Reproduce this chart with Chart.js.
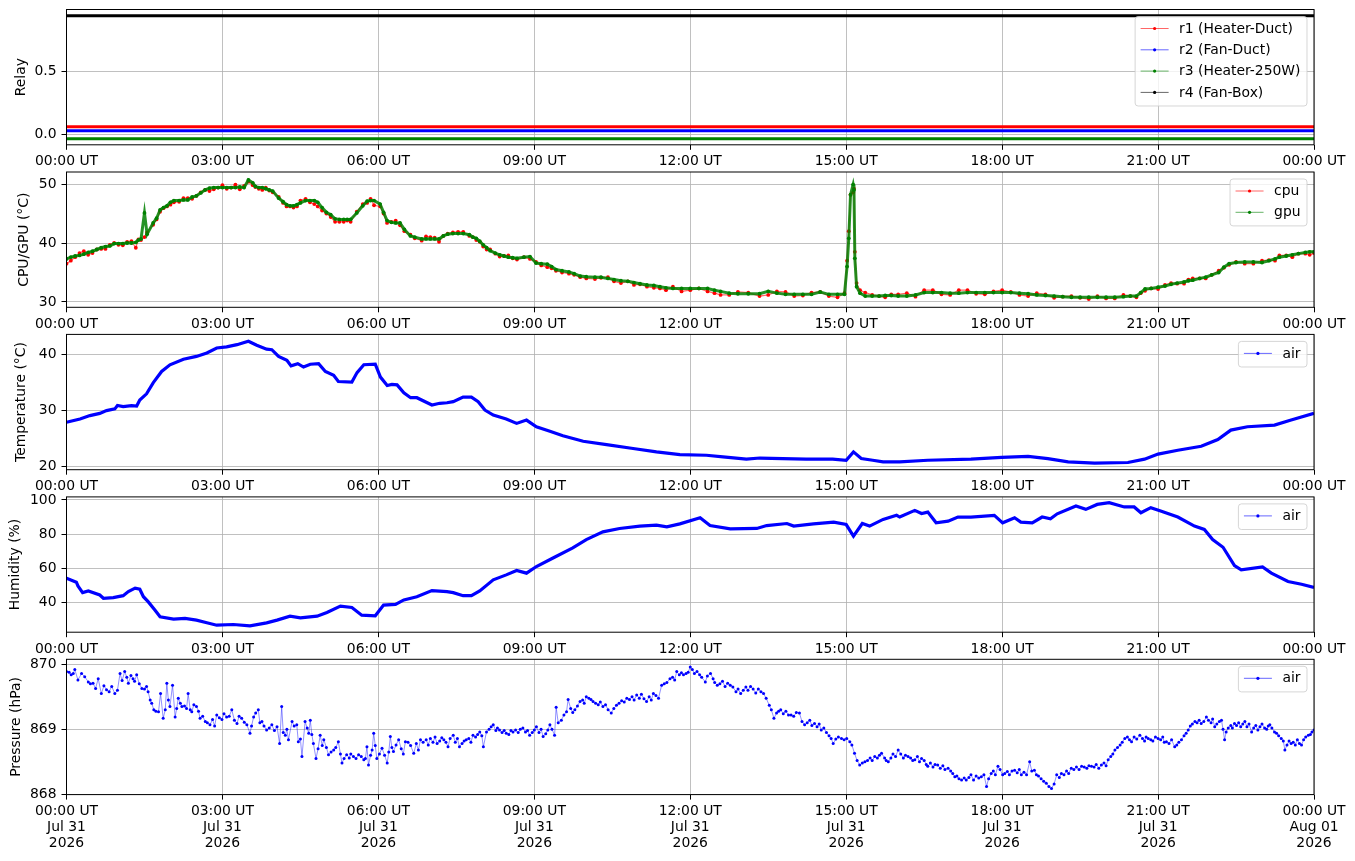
<!DOCTYPE html>
<html><head><meta charset="utf-8">
<script src="https://cdn.jsdelivr.net/npm/chart.js@4.4.1/dist/chart.umd.min.js"></script>
<style>
html,body{margin:0;padding:0;background:#fff;}
#wrap{position:relative;width:1355px;height:861px;overflow:hidden;}
#wrap canvas{position:absolute;left:0;top:0;}
</style></head><body><div id="wrap"></div>
<script>
// ---------------- DATA ----------------
const xTickHours = [0, 3, 6, 9, 12, 15, 18, 21, 24];
const xTickTimes = ['00:00 UT','03:00 UT','06:00 UT','09:00 UT','12:00 UT','15:00 UT','18:00 UT','21:00 UT','00:00 UT'];
const xTickDates = ['Jul 31','Jul 31','Jul 31','Jul 31','Jul 31','Jul 31','Jul 31','Jul 31','Aug 01'];
const xTickYears = ['2026','2026','2026','2026','2026','2026','2026','2026','2026'];

// Relay states (plotted with small vertical offsets so they don't overlap)
const relayT = [0, 6, 12, 18, 24];
const r1 = [0.0625, 0.0625, 0.0625, 0.0625, 0.0625];
const r2 = [0.03125, 0.03125, 0.03125, 0.03125, 0.03125];
const r3 = [-0.03125, -0.03125, -0.03125, -0.03125, -0.03125];
const r4 = [0.9375, 0.9375, 0.9375, 0.9375, 0.9375];

// CPU / GPU temperature (time in minutes)
const cgT = [0,10,20,30,40,50,60,70,80,86,90,93,100,108,116,124,135,145,155,165,175,185,195,205,210,215,222,230,238,245,254,262,270,281,290,300,310,320,328,335,347,355,362,370,380,390,397,410,420,430,440,452,465,473,481,489,500,510,520,535,542,555,565,580,593,610,625,640,655,670,685,700,720,740,755,775,800,820,840,860,880,898,901,903,905,908,909,910,912,916,930,945,960,980,1000,1020,1040,1060,1080,1100,1120,1140,1160,1180,1200,1220,1235,1245,1260,1275,1290,1300,1315,1330,1342,1360,1380,1395,1400,1415,1430,1440];
const gpu = [37.3,37.8,38.1,38.6,39.2,39.5,39.9,40.0,40.1,40.7,45.1,41.5,43.4,45.6,46.3,47.2,47.3,47.8,48.5,49.3,49.4,49.4,49.4,49.4,50.7,50.2,49.4,49.2,48.8,47.6,46.5,46.3,46.8,47.2,46.9,45.2,44.1,44.0,44.0,45.1,47.1,47.2,46.6,43.8,43.4,42.3,41.2,40.7,40.7,40.7,41.5,41.6,41.4,40.8,39.7,38.7,38.0,37.6,37.4,37.7,36.6,36.4,35.5,35.1,34.4,34.2,34.0,33.6,33.3,32.9,32.6,32.3,32.3,32.3,31.8,31.4,31.4,31.5,31.3,31.3,31.3,31.3,36.0,40.8,48.2,49.9,49.0,37.4,32.6,31.5,31.0,31.1,31.0,31.2,31.6,31.5,31.6,31.6,31.6,31.5,31.2,31.0,30.8,30.8,30.8,30.9,31.0,32.2,32.5,33.0,33.4,33.7,34.2,35.0,36.5,36.8,36.7,37.3,37.6,38.0,38.4,38.5];
const cpu = [36.5,37.6,38.6,38.3,39.0,39.7,39.7,40.2,39.2,40.5,41.0,41.8,43.1,45.3,46.2,46.9,47.6,47.5,48.6,48.8,49.4,49.2,49.9,49.7,50.4,49.8,49.2,49.4,48.6,47.8,46.2,46.0,47.2,46.9,46.2,45.0,43.6,43.6,43.6,45.3,46.8,46.4,46.2,43.4,43.8,42.0,41.4,40.4,41.0,40.2,41.6,41.9,41.2,40.5,39.4,38.9,37.7,37.9,37.2,37.3,36.8,35.9,35.3,34.8,34.2,33.9,34.2,33.2,32.9,32.6,32.3,32.6,32.0,31.8,31.2,31.7,31.0,31.8,31.0,31.6,31.0,31.5,37.0,42.0,48.2,48.6,49.2,38.5,33.2,32.0,31.2,30.8,31.3,30.9,32.0,31.2,32.0,31.3,32.0,31.2,31.5,30.7,31.0,30.5,30.6,31.2,30.8,31.9,32.2,33.2,33.1,34.0,34.0,35.3,36.3,36.5,37.0,37.0,37.9,37.6,38.2,38.3];
// CPU / GPU additional in-between readings (time in minutes)
const cgT2 = [5,15,25,35,45,55,65,75,83,104,112,120,130,140,150,160,170,180,190,200,218,226,234,250,258,266,276,286,295,305,315,324,342,351,366,375,385,402,415,425,435,446,458,469,477,485,495,505,515,528,548,560,572,586,600,617,632,648,662,678,692,710,730,748,765,787,810,830,850,870,890,922,938,952,970,990,1010,1030,1050,1070,1090,1110,1130,1150,1170,1190,1210,1228,1240,1252,1268,1282,1295,1308,1322,1336,1350,1370,1388,1408,1422,1435];
const cpu2 = [37.0,38.3,38.0,38.9,39.0,40.0,39.6,40.3,40.6,44.0,45.9,46.5,47.0,47.6,48.0,49.0,49.1,49.8,49.4,49.1,49.5,49.0,48.9,46.8,46.2,46.2,47.5,46.6,45.5,44.4,43.6,43.8,46.6,47.5,45.0,43.6,43.0,40.8,41.1,40.9,41.2,41.8,41.9,41.0,40.2,38.9,38.2,37.8,37.4,37.6,36.2,35.7,35.0,34.6,34.0,34.1,33.5,33.5,33.0,32.4,32.0,31.8,32.3,31.5,31.2,31.6,31.2,31.7,31.1,31.7,30.8,31.6,31.0,31.3,31.5,32.0,31.3,32.0,31.4,31.8,31.7,31.0,31.3,30.9,30.7,31.0,30.6,31.0,31.5,32.3,32.9,33.1,33.8,34.0,34.6,35.8,36.8,36.5,37.1,37.9,38.2,38.0];
const gpu2 = [37.6,37.9,38.4,38.9,39.4,39.9,39.9,40.0,40.5,44.2,46.0,46.9,47.2,47.3,48.0,49.0,49.4,49.4,49.4,49.5,49.6,49.4,49.0,47.0,46.3,46.5,47.2,47.2,46.0,44.8,44.0,44.0,46.3,47.2,45.2,43.5,43.4,41.0,40.7,40.7,41.2,41.6,41.6,41.0,40.3,39.2,38.3,37.8,37.5,37.6,36.5,36.0,35.3,34.8,34.3,34.2,33.8,33.5,33.1,32.8,32.4,32.3,32.3,32.0,31.5,31.4,31.8,31.3,31.3,31.7,31.3,31.0,31.0,31.1,31.0,31.6,31.6,31.5,31.6,31.6,31.6,31.4,31.1,30.9,30.8,30.8,30.8,31.0,31.6,32.3,32.7,33.2,33.6,34.0,34.6,35.9,36.7,36.8,37.0,37.8,38.2,38.5];

// Air temperature (time in hours)
const tempT = [0,0.26,0.45,0.64,0.77,0.93,0.98,1.09,1.25,1.35,1.41,1.54,1.67,1.83,1.99,2.25,2.5,2.7,2.89,3.08,3.28,3.5,3.66,3.85,3.95,4.08,4.24,4.32,4.45,4.56,4.69,4.85,4.98,5.14,5.23,5.49,5.59,5.72,5.94,6.04,6.17,6.26,6.36,6.49,6.62,6.74,7.03,7.18,7.32,7.44,7.63,7.79,7.92,8.05,8.21,8.46,8.66,8.85,9.04,9.30,9.55,9.94,10.39,10.9,11.35,11.8,12.31,12.63,13.08,13.34,13.78,14.23,14.74,15.0,15.14,15.29,15.51,15.71,16.03,16.57,17.4,17.99,18.5,18.88,19.27,19.78,20.42,20.74,21.0,21.38,21.83,22.15,22.4,22.72,23.24,23.56,24.0];
const temp = [27.9,28.5,29.1,29.5,30.0,30.3,30.9,30.7,30.9,30.8,31.9,33.0,35.0,37.0,38.2,39.2,39.7,40.3,41.2,41.4,41.8,42.4,41.7,41.0,40.9,39.7,39.0,38.0,38.4,37.8,38.3,38.4,37.0,36.3,35.2,35.1,36.8,38.2,38.3,36.0,34.5,34.7,34.6,33.2,32.3,32.3,31.0,31.3,31.4,31.6,32.4,32.4,31.6,30.1,29.2,28.5,27.7,28.3,27.1,26.3,25.5,24.5,23.9,23.2,22.6,22.1,22.0,21.7,21.3,21.5,21.4,21.3,21.3,21.1,22.6,21.4,21.1,20.8,20.8,21.1,21.3,21.6,21.8,21.4,20.8,20.6,20.7,21.3,22.2,22.9,23.6,24.8,26.5,27.1,27.4,28.3,29.5];

// Air humidity (time in hours)
const humT = [0,0.19,0.22,0.31,0.42,0.64,0.71,0.9,1.09,1.19,1.32,1.41,1.48,1.57,1.7,1.8,2.06,2.28,2.5,2.7,2.89,3.21,3.53,3.85,4.05,4.3,4.5,4.82,5.01,5.27,5.49,5.68,5.94,6.1,6.33,6.49,6.74,7.03,7.32,7.44,7.63,7.79,7.95,8.21,8.46,8.66,8.85,9.04,9.36,9.74,10.0,10.32,10.64,11.03,11.35,11.55,11.8,12.19,12.38,12.77,13.28,13.47,13.86,13.99,14.37,14.76,15.0,15.14,15.31,15.45,15.71,15.97,16.03,16.32,16.45,16.57,16.73,16.96,17.15,17.4,17.85,18.01,18.24,18.36,18.58,18.77,18.93,19.06,19.42,19.61,19.83,20.06,20.35,20.54,20.67,20.86,21.05,21.38,21.7,21.89,22.05,22.25,22.47,22.6,23.01,23.18,23.5,23.76,24.0];
const hum = [54.2,51.8,49.6,45.7,46.7,44.3,42.4,42.8,43.9,46.3,48.3,47.7,43.3,40.4,35.5,31.5,30.2,30.6,29.6,28.0,26.6,27.0,26.2,28.0,29.6,31.9,30.9,31.9,34.1,37.8,37.0,32.5,32.1,38.4,38.8,41.4,43.3,46.9,46.3,45.7,43.9,43.9,46.7,53.2,56.1,58.7,57.1,61.0,66.0,71.9,76.8,81.3,83.3,84.7,85.2,84.3,86.0,89.6,85.0,83.1,83.3,85.0,86.2,84.7,86.0,87.0,85.6,78.8,86.2,84.7,88.6,91.0,90.0,93.9,92.1,92.9,86.6,87.6,90.0,90.0,91.0,86.6,89.6,87.0,86.6,90.0,89.0,91.9,96.5,94.5,97.4,98.4,95.9,95.9,92.5,95.5,93.5,90.0,84.7,82.7,76.8,72.3,61.6,59.1,60.7,57.1,52.2,50.6,48.7];

// Air pressure (time in hours) - main readings
const presT = [0.00,0.13,0.16,0.22,0.29,0.35,0.42,0.51,0.61,0.67,0.77,0.87,0.93,1.03,1.12,1.19,1.28,1.35,1.45,1.54,1.61,1.68,1.77,1.81,1.86,1.93,1.99,2.04,2.09,2.15,2.22,2.31,2.34,2.41,2.50,2.57,2.67,2.76,2.89,2.99,3.08,3.18,3.28,3.37,3.47,3.53,3.60,3.69,3.76,3.85,3.95,4.05,4.10,4.14,4.21,4.27,4.34,4.43,4.46,4.53,4.59,4.66,4.69,4.75,4.80,4.88,4.95,5.04,5.14,5.23,5.30,5.39,5.52,5.62,5.72,5.78,5.81,5.88,5.91,5.97,6.07,6.17,6.23,6.29,6.39,6.52,6.68,6.81,7.00,7.13,7.26,7.34,7.44,7.56,7.69,7.82,7.95,8.02,8.08,8.21,8.33,8.46,8.59,8.78,8.91,9.04,9.17,9.30,9.39,9.42,9.52,9.62,9.65,9.78,9.88,10.00,10.13,10.32,10.48,10.58,10.78,10.97,11.16,11.29,11.39,11.45,11.61,11.74,11.87,12.00,12.13,12.29,12.39,12.52,12.72,12.88,12.97,13.16,13.36,13.52,13.61,13.74,13.94,14.10,14.20,14.39,14.52,14.75,14.91,15.07,15.16,15.26,15.36,15.55,15.68,15.81,16.00,16.19,16.32,16.45,16.57,16.76,16.96,17.09,17.22,17.40,17.60,17.70,17.79,17.92,18.05,18.24,18.37,18.53,18.62,18.75,18.85,18.95,19.05,19.14,19.33,19.53,19.72,19.91,20.04,20.17,20.36,20.49,20.65,20.81,21.00,21.16,21.32,21.45,21.58,21.71,21.83,21.93,22.09,22.22,22.28,22.35,22.47,22.67,22.80,22.92,23.05,23.15,23.24,23.37,23.44,23.56,23.76,23.89,24.00];
const pres = [869.89,869.86,869.92,869.76,869.86,869.81,869.73,869.71,869.78,869.55,869.61,869.66,869.55,869.86,869.89,869.71,869.78,869.84,869.63,869.66,869.45,869.30,869.27,869.55,869.17,869.71,869.35,869.68,869.19,869.48,869.35,869.32,869.55,869.27,869.35,869.17,869.12,869.07,869.22,869.15,869.19,869.30,869.09,869.17,869.07,868.94,869.19,869.30,869.12,868.99,869.07,869.04,868.78,869.35,868.91,868.84,869.12,869.07,868.81,868.58,869.12,868.94,869.14,868.78,868.55,868.91,868.84,868.61,868.68,868.81,868.48,868.61,868.58,868.61,868.53,868.73,868.45,868.68,868.94,868.55,868.71,868.48,868.89,868.66,868.84,868.81,868.63,868.84,868.86,868.78,868.84,868.73,868.91,868.73,868.84,868.91,868.96,868.73,868.96,869.07,868.99,868.94,868.96,869.02,868.91,869.04,868.89,869.07,868.91,869.34,869.14,869.27,869.46,869.30,869.43,869.50,869.43,869.35,869.25,869.37,869.48,869.53,869.43,869.55,869.48,869.68,869.78,869.89,869.84,869.96,869.89,869.73,869.86,869.68,869.71,869.58,869.55,869.66,869.58,869.37,869.17,869.30,869.22,869.25,869.07,869.09,868.99,868.78,868.86,868.81,868.63,868.45,868.50,868.58,868.63,868.50,868.68,868.58,868.53,868.55,868.43,868.45,868.40,868.27,868.22,868.30,868.27,868.12,868.32,868.43,868.32,868.37,868.30,868.50,868.37,868.24,868.17,868.09,868.30,868.32,868.40,868.43,868.43,868.45,868.53,868.68,868.86,868.81,868.91,868.86,868.86,868.81,868.73,868.84,868.99,869.12,869.09,869.19,869.04,869.14,868.84,869.02,869.09,869.12,868.96,868.99,869.02,869.07,868.96,868.86,868.68,868.78,868.76,868.91,868.99];
// Air pressure - additional in-between readings (band of the dense scatter)
const presT2 = [0.05,0.09,0.46,0.56,0.72,0.82,0.98,1.07,1.16,1.24,1.31,1.40,1.50,1.57,1.64,1.72,1.90,1.96,2.12,2.19,2.27,2.38,2.45,2.54,2.62,2.71,2.81,2.85,2.94,3.03,3.13,3.23,3.32,3.42,3.56,3.64,3.72,3.80,3.90,4.00,4.17,4.24,4.38,4.50,4.63,4.72,4.84,4.92,5.00,5.09,5.18,5.27,5.34,5.44,5.47,5.57,5.67,5.75,5.85,5.94,6.02,6.12,6.20,6.26,6.34,6.44,6.48,6.57,6.62,6.73,6.77,6.86,6.92,6.96,7.05,7.09,7.18,7.22,7.30,7.38,7.48,7.52,7.61,7.65,7.74,7.78,7.87,7.91,7.99,8.13,8.17,8.26,8.29,8.38,8.42,8.51,8.55,8.64,8.69,8.73,8.83,8.87,8.96,9.00,9.09,9.13,9.22,9.26,9.34,9.46,9.57,9.70,9.74,9.83,9.93,9.96,10.05,10.09,10.18,10.23,10.27,10.37,10.42,10.53,10.63,10.68,10.73,10.83,10.88,10.92,11.02,11.06,11.11,11.21,11.25,11.34,11.50,11.55,11.66,11.70,11.79,11.83,11.92,11.96,12.04,12.08,12.18,12.22,12.33,12.44,12.47,12.57,12.62,12.67,12.77,12.82,12.92,13.02,13.07,13.11,13.21,13.26,13.31,13.41,13.46,13.56,13.66,13.70,13.79,13.84,13.89,13.99,14.04,14.15,14.25,14.30,14.34,14.44,14.48,14.57,14.62,14.67,14.71,14.80,14.85,14.96,15.01,15.11,15.21,15.31,15.41,15.46,15.50,15.60,15.64,15.74,15.77,15.86,15.90,15.95,16.05,16.10,16.14,16.24,16.28,16.37,16.41,16.50,16.54,16.62,16.67,16.71,16.81,16.86,16.90,17.01,17.05,17.13,17.17,17.27,17.31,17.36,17.45,17.50,17.55,17.65,17.74,17.83,17.87,17.96,18.01,18.10,18.14,18.19,18.29,18.33,18.42,18.47,18.57,18.66,18.70,18.80,18.90,19.00,19.10,19.19,19.24,19.28,19.38,19.43,19.48,19.58,19.63,19.67,19.77,19.81,19.86,19.96,20.00,20.09,20.13,20.22,20.27,20.31,20.41,20.45,20.54,20.59,20.70,20.74,20.77,20.86,20.90,20.95,21.05,21.09,21.12,21.21,21.26,21.36,21.40,21.50,21.54,21.62,21.66,21.75,21.79,21.88,21.97,22.02,22.05,22.13,22.18,22.25,22.31,22.40,22.43,22.51,22.55,22.59,22.63,22.71,22.75,22.84,22.88,22.96,23.00,23.09,23.12,23.19,23.28,23.32,23.41,23.48,23.52,23.60,23.64,23.68,23.72,23.80,23.84,23.93,23.96];
const pres2 = [869.88,869.84,869.70,869.63,869.67,869.58,869.60,869.75,869.80,869.83,869.74,869.70,869.62,869.58,869.40,869.28,869.30,869.45,869.32,869.40,869.36,869.30,869.38,869.28,869.20,869.10,869.15,869.05,869.18,869.24,869.20,869.14,869.20,869.11,869.05,869.25,869.10,869.05,869.02,868.98,868.95,869.00,869.05,868.85,869.02,868.92,868.70,868.75,868.72,868.65,868.72,868.62,868.55,868.56,868.62,868.55,868.58,868.55,868.60,868.75,868.62,868.60,868.65,868.72,868.76,868.70,868.62,868.80,868.75,868.78,868.68,868.80,868.84,868.76,868.80,868.88,868.82,868.87,868.80,868.86,868.80,868.86,868.78,868.82,868.86,868.80,868.88,868.92,868.90,869.00,869.04,868.98,869.02,868.95,868.98,868.92,868.98,868.99,868.95,869.00,868.96,868.98,868.95,868.99,868.95,869.00,868.93,868.99,869.00,869.10,869.22,869.32,869.26,869.36,869.45,869.40,869.48,869.46,869.40,869.38,869.42,869.38,869.30,869.32,869.40,869.44,869.42,869.46,869.50,869.45,869.48,869.54,869.47,869.50,869.45,869.52,869.70,869.72,869.80,869.76,869.84,869.87,869.86,869.88,869.92,869.86,869.84,869.80,869.82,869.78,869.72,869.70,869.74,869.66,869.68,869.65,869.62,869.60,869.65,869.60,869.62,869.56,869.62,869.55,869.48,869.30,869.25,869.28,869.24,869.28,869.22,869.20,869.26,869.12,869.10,869.14,869.06,869.04,869.08,869.02,868.95,868.90,868.86,868.85,868.88,868.84,868.86,868.76,868.52,868.48,868.52,868.56,868.52,868.56,868.60,868.56,868.52,868.56,868.62,868.58,868.62,868.56,868.60,868.56,868.52,868.58,868.50,868.52,868.46,868.48,868.42,868.46,868.40,868.44,868.38,868.36,868.32,868.28,868.24,868.25,868.22,868.26,868.22,868.28,868.25,868.30,868.24,868.36,868.30,868.38,868.30,868.35,868.30,868.36,868.33,868.38,868.34,868.30,868.36,868.30,868.28,868.20,868.12,868.16,868.26,868.30,868.36,868.32,868.38,868.42,868.38,868.42,868.40,868.44,868.42,868.46,868.40,868.48,868.44,868.58,868.62,868.72,868.76,868.80,868.88,868.84,868.88,868.85,868.86,868.82,868.88,868.84,868.82,868.88,868.84,868.88,868.80,868.78,868.84,868.76,868.80,868.90,868.94,869.05,869.08,869.10,869.14,869.12,869.14,869.10,869.16,869.08,869.12,869.00,868.96,869.06,869.02,869.06,869.10,869.04,869.08,869.04,869.08,869.02,869.06,869.04,869.08,869.00,869.05,869.02,868.94,868.90,868.82,868.76,868.82,868.80,868.76,868.84,868.78,868.84,868.88,868.92,868.96];

// ---------------- RENDER ----------------
const FONT = 'DejaVu Sans';
const FS = 13.9;
Chart.defaults.font.family = FONT;
Chart.defaults.font.size = FS;
Chart.defaults.color = '#000';
Chart.defaults.animation = false;

const W = 1355, H = 861, PLOT_RIGHT = 1314, YAXIS_W = 66.5, PH = 135.3;
const tops = [9.5, 172.0, 334.4, 496.9, 659.3];

function pts(xs, ys, k) { return xs.map((x, i) => ({ x: x * (k || 1), y: ys[i] })); }
function merged(xa, ya, xb, yb, k) { return pts(xa, ya, k).concat(pts(xb, yb, k)).sort((p, q) => p.x - q.x); }

const mplPlugin = {
  id: 'mpl',
  afterDraw(chart) {
    const { ctx, chartArea: a } = chart;
    ctx.save();
    ctx.strokeStyle = '#000'; ctx.lineWidth = 1;
    ctx.strokeRect(a.left, a.top, a.right - a.left, a.bottom - a.top);
    const ds = chart.data.datasets;
    ctx.font = FS + 'px "' + FONT + '"';
    const tw = Math.max(...ds.map(d => ctx.measureText(d.label).width));
    const rowH = 21.3;
    const bw = 44 + tw + 6.5, bh = ds.length * rowH + 4.3;
    const bx = a.right - 7 - bw, by = a.top + 7, r = 3;
    ctx.beginPath();
    ctx.moveTo(bx + r, by); ctx.lineTo(bx + bw - r, by); ctx.arcTo(bx + bw, by, bx + bw, by + r, r);
    ctx.lineTo(bx + bw, by + bh - r); ctx.arcTo(bx + bw, by + bh, bx + bw - r, by + bh, r);
    ctx.lineTo(bx + r, by + bh); ctx.arcTo(bx, by + bh, bx, by + bh - r, r);
    ctx.lineTo(bx, by + r); ctx.arcTo(bx, by, bx + r, by, r); ctx.closePath();
    ctx.fillStyle = 'rgba(255,255,255,0.8)'; ctx.fill();
    ctx.strokeStyle = 'rgba(204,204,204,0.8)'; ctx.lineWidth = 1; ctx.stroke();
    ds.forEach((d, i) => {
      const cy = by + 12 + i * rowH;
      ctx.globalAlpha = 0.6; ctx.strokeStyle = d.mplColor; ctx.lineWidth = 1;
      ctx.beginPath(); ctx.moveTo(bx + 5.5, cy); ctx.lineTo(bx + 33.5, cy); ctx.stroke();
      ctx.globalAlpha = 1; ctx.fillStyle = d.mplColor;
      ctx.beginPath(); ctx.arc(bx + 19.5, cy, 1.6, 0, Math.PI * 2); ctx.fill();
      ctx.fillStyle = '#000'; ctx.textBaseline = 'middle'; ctx.textAlign = 'left';
      ctx.fillText(d.label, bx + 44, cy + 0.5);
    });
    ctx.restore();
  }
};

function thick(label, color, data, w) {
  return { label, mplColor: color, data, borderColor: color, borderWidth: w, pointRadius: 0, tension: 0 };
}
function dotted(label, color, rgba, data, w, pr, order) {
  return { label, mplColor: color, data, borderColor: rgba, borderWidth: w,
    pointRadius: pr, pointBackgroundColor: color, pointBorderWidth: 0, tension: 0, order };
}

const panels = [
  { title: 'Relay', tpad: 12.6, min: -0.079, max: 0.986, yt: [0, 0.5], yl: ['0.0', '0.5'],
    ds: [thick('r1 (Heater-Duct)', '#ff0000', pts(relayT, r1), 3),
         thick('r2 (Fan-Duct)', '#0000ff', pts(relayT, r2), 3),
         thick('r3 (Heater-250W)', '#008000', pts(relayT, r3), 3),
         thick('r4 (Fan-Box)', '#000000', pts(relayT, r4), 3)] },
  { title: 'CPU/GPU (°C)', tpad: 16.3, min: 29.1, max: 52.04, yt: [30, 40, 50], yl: ['30', '40', '50'],
    ds: [dotted('cpu', '#ff0000', 'rgba(255,0,0,0.6)', merged(cgT, cpu, cgT2, cpu2, 1 / 60), 1.2, 1.9, 2),
         dotted('gpu', '#008000', 'rgba(0,128,0,0.85)', merged(cgT, gpu, cgT2, gpu2, 1 / 60), 3, 1.9, 1)] },
  { title: 'Temperature (°C)', tpad: 13.5, min: 19.41, max: 43.64, yt: [20, 30, 40], yl: ['20', '30', '40'],
    ds: [thick('air', '#0000ff', pts(tempT, temp), 3.2)] },
  { title: 'Humidity (%)', tpad: 6.7, min: 22.5, max: 101.8, yt: [40, 60, 80, 100], yl: ['40', '60', '80', '100'],
    ds: [thick('air', '#0000ff', pts(humT, hum), 3.2)] },
  { title: 'Pressure (hPa)', tpad: 8.2, min: 867.995, max: 870.078, yt: [868, 869, 870], yl: ['868', '869', '870'],
    ds: [dotted('air', '#0000ff', 'rgba(0,0,255,0.55)', merged(presT, pres, presT2, pres2, 1), 0.8, 1.5, 1)] }
];

function noPad(s) { s.paddingTop = 0; s.paddingBottom = 0; s.paddingLeft = 0; s.paddingRight = 0; }

const wrap = document.getElementById('wrap');
panels.forEach((p, idx) => {
  const last = idx === panels.length - 1;
  const xh = last ? 66 : 24;
  const cv = document.createElement('canvas');
  cv.width = W; cv.height = H;
  cv.style.width = W + 'px'; cv.style.height = H + 'px';
  wrap.appendChild(cv);
  new Chart(cv, {
    type: 'line',
    data: { datasets: p.ds },
    plugins: [mplPlugin],
    options: {
      responsive: false, animation: false, events: [],
      layout: { padding: { left: 0, right: W - PLOT_RIGHT, top: tops[idx], bottom: H - tops[idx] - PH - xh } },
      plugins: { legend: { display: false }, tooltip: { enabled: false } },
      scales: {
        x: {
          type: 'linear', min: 0, max: 24,
          afterFit: s => { s.height = xh; noPad(s); },
          afterBuildTicks: s => { s.ticks = xTickHours.map(v => ({ value: v })); },
          border: { display: false },
          grid: { color: '#b0b0b0', lineWidth: 0.8, tickLength: 5, tickColor: '#000', tickWidth: 1 },
          ticks: {
            autoSkip: false, maxRotation: 0, minRotation: 0, padding: 4,
            font: { size: FS, lineHeight: 1.15 },
            callback: (v, i) => last ? [xTickTimes[i], xTickDates[i], xTickYears[i]] : xTickTimes[i]
          }
        },
        y: {
          type: 'linear', min: p.min, max: p.max,
          afterFit: s => { s.width = YAXIS_W; noPad(s); },
          afterBuildTicks: s => { s.ticks = p.yt.map(v => ({ value: v })); },
          border: { display: false },
          grid: { color: '#b0b0b0', lineWidth: 0.8, tickLength: 5, tickColor: '#000', tickWidth: 1 },
          ticks: { padding: 5, callback: (v, i) => p.yl[i] },
          title: { display: true, text: p.title, padding: { top: p.tpad, bottom: 0 }, font: { size: FS } }
        }
      }
    }
  });
});
</script>
</body></html>
